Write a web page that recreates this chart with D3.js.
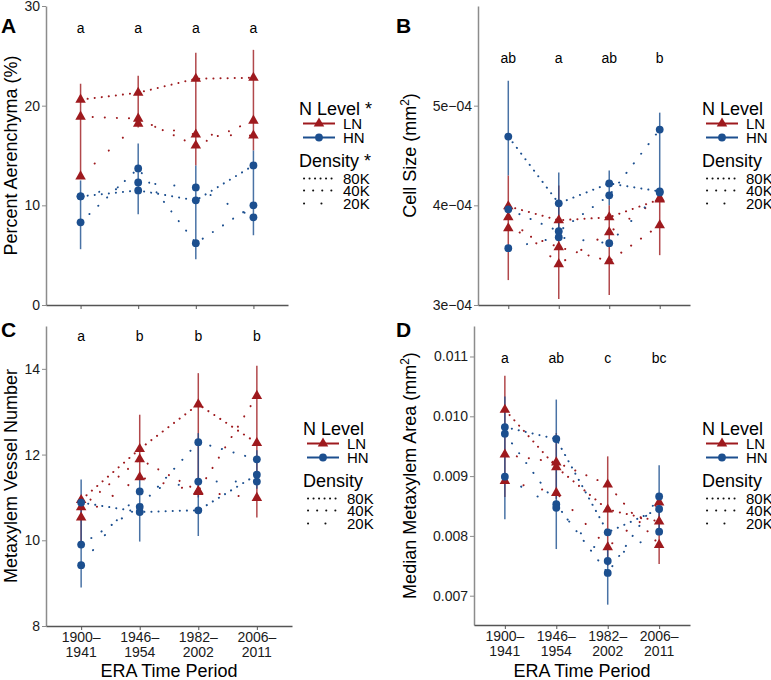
<!DOCTYPE html>
<html>
<head>
<meta charset="utf-8">
<script src="https://cdn.jsdelivr.net/npm/d3@7"></script>
<style>
body { margin: 0; background: #fff; }
svg { font-family: "Liberation Sans", Arial, sans-serif; }
</style>
</head>
<body>
<script>
// x categories (two-line tick labels)
var periods = ["1900–1941", "1946–1954", "1982–2002", "2006–2011"];
var periodLines = [["1900–", "1941"], ["1946–", "1954"], ["1982–", "2002"], ["2006–", "2011"]];
var densities = ["80K", "40K", "20K"];

// A: percent aerenchyma, rows = 80K, 40K, 20K
var aerLN = [[20.6, 21.3, 22.7, 22.8], [18.9, 18.7, 16.0, 18.5], [12.9, 18.2, 17.1, 17.0]];
var aerHN = [[10.9, 11.5, 10.5, 14.0], [8.3, 13.7, 6.2, 10.0], [10.9, 12.3, 11.8, 8.8]];
var aerErrLN = [[12.9, 22.2], [17.8, 23.0], [14.0, 25.3], [15.5, 25.6]];
var aerErrHN = [[5.6, 12.5], [9.1, 16.2], [4.6, 14.0], [7.0, 15.5]];
var aerLetters = ["a", "a", "a", "a"];
var aerTicks = [0, 10, 20, 30];
var aerTickLabels = ["0", "10", "20", "30"];

// B: cell size
var cellLN = [[3.99e-4, 3.85e-4, 3.88e-4, 4.06e-4], [3.77e-4, 3.58e-4, 3.44e-4, 3.80e-4], [3.88e-4, 3.41e-4, 3.73e-4, 4.07e-4]];
var cellHN = [[4.69e-4, 4.02e-4, 4.22e-4, 4.14e-4], [3.96e-4, 3.74e-4, 4.10e-4, 4.76e-4], [3.57e-4, 3.68e-4, 3.62e-4, 4.13e-4]];
var cellErrLN = [[3.25e-4, 4.3e-4], [3.06e-4, 4.2e-4], [3.1e-4, 4.0e-4], [3.5e-4, 4.13e-4]];
var cellErrHN = [[4.3e-4, 5.25e-4], [3.7e-4, 4.33e-4], [4.0e-4, 4.35e-4], [4.13e-4, 4.93e-4]];
var cellLetters = ["ab", "a", "ab", "b"];
var cellTicks = [3e-4, 4e-4, 5e-4];
var cellTickLabels = ["3e−04", "4e−04", "5e−04"];

// C: metaxylem vessel number
var vesLN = [[10.94, 12.13, 13.17, 12.27], [10.77, 11.89, 11.15, 13.37], [10.53, 11.47, 11.13, 10.99]];
var vesHN = [[10.88, 10.66, 10.70, 11.53], [9.90, 10.78, 12.29, 11.89], [9.42, 11.14, 11.37, 11.37]];
var vesErrLN = [[9.95, 10.95], [11.5, 12.93], [11.0, 13.9], [10.53, 14.07]];
var vesErrHN = [[8.9, 11.42], [9.97, 11.5], [10.1, 12.5], [11.2, 12.1]];
var vesLetters = ["a", "b", "b", "b"];
var vesTicks = [8, 10, 12, 14];
var vesTickLabels = ["8", "10", "12", "14"];

// D: median metaxylem area
var metaLN = [[0.01011, 0.00915, 0.00844, 0.00824], [0.00936, 0.00923, 0.00886, 0.00785], [0.00892, 0.00872, 0.00781, 0.00856]];
var metaHN = [[0.00982, 0.00962, 0.00806, 0.00845], [0.00971, 0.00853, 0.00738, 0.00866], [0.00899, 0.00847, 0.00758, 0.00807]];
var metaErrLN = [[0.00865, 0.01068], [0.00862, 0.00972], [0.0075, 0.00933], [0.00753, 0.0085]];
var metaErrHN = [[0.00828, 0.01033], [0.00778, 0.01028], [0.00685, 0.0079], [0.0081, 0.00918]];
var metaLetters = ["a", "ab", "c", "bc"];
var metaTicks = [0.007, 0.008, 0.009, 0.010, 0.011];
var metaTickLabels = ["0.007", "0.008", "0.009", "0.010", "0.011"];

var red = "#9e1a1e", blue = "#1c4f8f";
var plotDash = {"80K": "0.1 7", "40K": "0.1 12", "20K": "0.1 19"};
var keyDash = {"80K": "0.1 5.4", "40K": "0.1 9", "20K": "0.1 17.3"};

var svg = d3.select("body").append("svg").attr("width", 771).attr("height", 680);

var panels = [
  {tag: "A", LN: aerLN, HN: aerHN, errLN: aerErrLN, errHN: aerErrHN, letters: aerLetters, letterY: 27.8,
   ticks: aerTicks, tickLabels: aerTickLabels, domain: [0, 30],
   left: 46, right: 288, top: 6, bottom: 305, tagX: 1, tagY: 33, titleX: 17,
   title: ["Percent Aerenchyma (%)"], legX: 299, legY: 115, star: true, xLabels: false},
  {tag: "B", LN: cellLN, HN: cellHN, errLN: cellErrLN, errHN: cellErrHN, letters: cellLetters, letterY: 5.48e-4,
   ticks: cellTicks, tickLabels: cellTickLabels, domain: [3e-4, 6e-4],
   left: 478, right: 690, top: 6, bottom: 305, tagX: 396, tagY: 33, titleX: 416,
   title: ["Cell Size (mm", "2", ")"], legX: 702, legY: 115, star: false, xLabels: false},
  {tag: "C", LN: vesLN, HN: vesHN, errLN: vesErrLN, errHN: vesErrHN, letters: vesLetters, letterY: 14.76,
   ticks: vesTicks, tickLabels: vesTickLabels, domain: [8, 15],
   left: 46, right: 292, top: 326, bottom: 626, tagX: 1, tagY: 337, titleX: 17,
   title: ["Metaxylem Vessel Number"], legX: 303, legY: 435, star: false, xLabels: true},
  {tag: "D", LN: metaLN, HN: metaHN, errLN: metaErrLN, errHN: metaErrHN, letters: metaLetters, letterY: 0.01098,
   ticks: metaTicks, tickLabels: metaTickLabels, domain: [0.00651, 0.01151],
   left: 474, right: 690, top: 326, bottom: 625, tagX: 396, tagY: 337, titleX: 416,
   title: ["Median Metaxylem Area (mm", "2", ")"], legX: 702, legY: 435, star: false, xLabels: true}
];

panels.forEach(drawPanel);

function drawPanel(p) {
  var g = svg.append("g");
  var x = d3.scalePoint().domain(periods).range([p.left, p.right]).padding(0.6);
  var y = d3.scaleLinear().domain(p.domain).range([p.bottom, p.top]);

  // axes
  var ya = g.append("g").attr("transform", "translate(" + p.left + ",0)")
    .call(d3.axisLeft(y).tickValues(p.ticks).tickFormat(function (d, i) { return p.tickLabels[i]; })
      .tickSize(4).tickPadding(2).tickSizeOuter(0));
  ya.select(".domain").attr("stroke", "#8c8c8c").attr("stroke-width", 1.5);
  ya.selectAll(".tick line").attr("stroke", "#8c8c8c");
  ya.selectAll(".tick text").attr("font-size", 14).attr("fill", "#1a1a1a")
    .attr("font-family", "Liberation Sans, Arial, sans-serif");

  var xa = g.append("g").attr("transform", "translate(0," + p.bottom + ")")
    .call(d3.axisBottom(x).tickSize(4).tickSizeOuter(0).tickFormat(""));
  xa.select(".domain").attr("stroke", "#555").attr("stroke-width", 1.3);
  xa.selectAll(".tick line").attr("stroke", "#555");

  if (p.xLabels) {
    periods.forEach(function (per, i) {
      var t = g.append("text").attr("x", x(per)).attr("text-anchor", "middle")
        .attr("font-size", 14).attr("fill", "#1a1a1a");
      t.append("tspan").attr("x", x(per)).attr("y", p.bottom + 16).text(periodLines[i][0]);
      t.append("tspan").attr("x", x(per)).attr("y", p.bottom + 31).text(periodLines[i][1]);
    });
    g.append("text").attr("x", (p.left + p.right) / 2).attr("y", 677)
      .attr("text-anchor", "middle").attr("font-size", 18).text("ERA Time Period");
  }

  // y title
  var yt = g.append("text")
    .attr("transform", "translate(" + p.titleX + "," + (p.top + p.bottom) / 2 + ") rotate(-90)")
    .attr("text-anchor", "middle").attr("font-size", 18);
  yt.append("tspan").text(p.title[0]);
  if (p.title.length > 1) {
    yt.append("tspan").attr("font-size", 12).attr("dy", -7).text(p.title[1]);
    yt.append("tspan").attr("dy", 7).text(p.title[2]);
  }

  // panel tag
  g.append("text").attr("x", p.tagX).attr("y", p.tagY).attr("font-size", 21)
    .attr("font-weight", "bold").text(p.tag);

  // significance letters
  g.selectAll(".sig").data(p.letters).enter().append("text")
    .attr("x", function (d, i) { return x(periods[i]); })
    .attr("y", y(p.letterY) + 5)
    .attr("text-anchor", "middle").attr("font-size", 14).text(function (d) { return d; });

  // error bars
  [[p.errLN, red], [p.errHN, blue]].forEach(function (e) {
    g.selectAll(null).data(e[0]).enter().append("line")
      .attr("x1", function (d, i) { return x(periods[i]); })
      .attr("x2", function (d, i) { return x(periods[i]); })
      .attr("y1", function (d) { return y(d[0]); })
      .attr("y2", function (d) { return y(d[1]); })
      .attr("stroke", e[1]).attr("stroke-width", 1.5).attr("stroke-opacity", 0.8);
  });

  // dotted lines
  var line = d3.line().x(function (d, i) { return x(periods[i]); }).y(function (d) { return y(d); });
  [[p.LN, red], [p.HN, blue]].forEach(function (s) {
    s[0].forEach(function (vals, k) {
      g.append("path").attr("d", line(vals)).attr("fill", "none")
        .attr("stroke", s[1]).attr("stroke-width", 2).attr("stroke-linecap", "round")
        .attr("stroke-dasharray", plotDash[densities[k]]);
    });
  });

  // points
  var tri = d3.symbol().type(d3.symbolTriangle).size(48);
  p.LN.forEach(function (vals) {
    g.selectAll(null).data(vals).enter().append("path").attr("d", tri)
      .attr("transform", function (d, i) { return "translate(" + x(periods[i]) + "," + y(d) + ")"; })
      .attr("fill", red);
  });
  p.HN.forEach(function (vals) {
    g.selectAll(null).data(vals).enter().append("circle")
      .attr("cx", function (d, i) { return x(periods[i]); })
      .attr("cy", function (d) { return y(d); })
      .attr("r", 3.9).attr("fill", blue);
  });

  drawLegend(g, p.legX, p.legY, p.star);
}

function drawLegend(g, lx, ty, star) {
  g.append("text").attr("x", lx).attr("y", ty).attr("font-size", 18).text("N Level" + (star ? " *" : ""));
  var rows = [["LN", red, ty + 8.5], ["HN", blue, ty + 22.5]];
  rows.forEach(function (r) {
    g.append("line").attr("x1", lx + 4).attr("x2", lx + 36).attr("y1", r[2]).attr("y2", r[2])
      .attr("stroke", r[1]).attr("stroke-width", 2);
    if (r[0] == "LN") {
      g.append("path").attr("d", d3.symbol().type(d3.symbolTriangle).size(48))
        .attr("transform", "translate(" + (lx + 20) + "," + r[2] + ")").attr("fill", r[1]);
    } else {
      g.append("circle").attr("cx", lx + 20).attr("cy", r[2]).attr("r", 3.9).attr("fill", r[1]);
    }
    g.append("text").attr("x", lx + 44).attr("y", r[2] + 5.5).attr("font-size", 15).text(r[0]);
  });
  g.append("text").attr("x", lx).attr("y", ty + 52).attr("font-size", 18).text("Density" + (star ? " *" : ""));
  var offs = [63.5, 75.5, 88.5];
  densities.forEach(function (d, k) {
    var yy = ty + offs[k];
    g.append("line").attr("x1", lx + 5).attr("x2", lx + 33).attr("y1", yy).attr("y2", yy)
      .attr("stroke", "#111").attr("stroke-width", 2).attr("stroke-linecap", "round")
      .attr("stroke-dasharray", keyDash[d]);
    g.append("text").attr("x", lx + 44).attr("y", yy + 5.5).attr("font-size", 15).text(d);
  });
}
</script>
</body>
</html>
